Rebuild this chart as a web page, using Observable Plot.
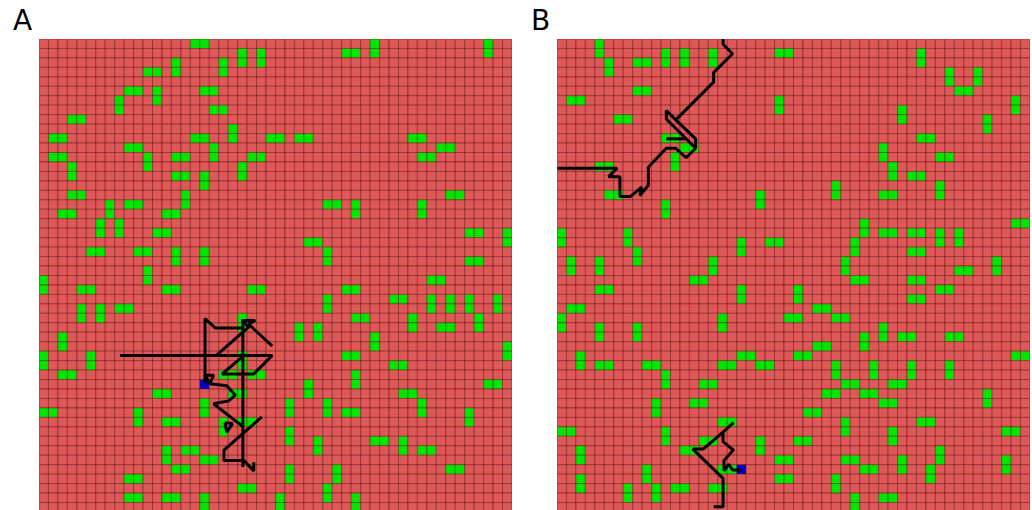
<!DOCTYPE html>
<html>
<head>
<meta charset="utf-8">
<script src="https://cdn.jsdelivr.net/npm/d3@7"></script>
<script src="https://cdn.jsdelivr.net/npm/@observablehq/plot@0.6"></script>
<style>
  html, body { margin: 0; padding: 0; background: #fff; }
  #root { position: relative; width: 1032px; height: 510px; overflow: hidden; background: #fff; }
  .lab { position: absolute; top: 7px; font-family: "DejaVu Sans", sans-serif; font-size: 28px; line-height: 28px; color: #000; }
  .panel { position: absolute; top: 39px; }
</style>
</head>
<body>
<div id="root">
  <div class="lab" style="left:13px">A</div>
  <div class="lab" style="left:531px">B</div>
  <div id="pa" class="panel" style="left:39px"></div>
  <div id="pb" class="panel" style="left:557px"></div>
</div>
<script>
// ---- data ----
const gridSize = 50;
const panelLabels = ["A", "B"];

// green cells [column, row], row 0 at top
const greenA = [
 [16,0],[17,0],[35,0],[47,0],
 [21,1],[23,1],[32,1],[33,1],[35,1],[47,1],
 [21,2],[23,2],[14,2],[19,2],
 [14,3],[19,3],[11,3],[12,3],
 [9,5],[10,5],[12,5],[17,5],[18,5],
 [12,6],[8,6],
 [8,7],[18,7],[19,7],
 [3,8],[4,8],
 [20,9],
 [1,10],[2,10],[16,10],[17,10],[20,10],[24,10],[25,10],[27,10],[28,10],[39,10],[40,10],
 [9,11],[10,11],[18,11],[42,11],[43,11],
 [1,12],[2,12],[11,12],[14,12],[15,12],[18,12],[22,12],[23,12],[40,12],[41,12],
 [11,13],[3,13],[21,13],
 [3,14],[21,14],[14,14],[15,14],[17,14],
 [17,15],
 [3,16],[4,16],[15,16],[43,16],[44,16],
 [15,17],[7,17],[9,17],[10,17],[30,17],[31,17],[33,17],[40,17],
 [7,18],[2,18],[3,18],[13,18],[14,18],[33,18],[40,18],
 [6,19],[8,19],
 [6,20],[8,20],[12,20],[13,20],[45,20],[46,20],[49,20],
 [49,21],[28,21],[29,21],
 [5,22],[6,22],[10,22],[11,22],[14,22],[17,22],[30,22],
 [14,23],[17,23],[30,23],[45,23],[46,23],
 [11,24],
 [11,25],[0,25],[41,25],[42,25],
 [0,26],[4,26],[5,26],[13,26],[14,26],[22,26],[23,26],[32,26],[33,26],
 [30,27],[37,27],[38,27],[41,27],[43,27],[45,27],[48,27],
 [4,28],[6,28],[8,28],[9,28],[30,28],[41,28],[43,28],[45,28],[48,28],
 [4,29],[6,29],[21,29],[33,29],[34,29],[39,29],[46,29],
 [21,30],[39,30],[46,30],[27,30],[29,30],[42,30],[43,30],
 [2,31],[27,31],[29,31],[35,31],
 [2,32],[35,32],[49,32],
 [0,33],[5,33],[21,33],[49,33],[32,33],[33,33],
 [0,34],[5,34],[21,34],[37,34],[38,34],
 [2,35],[3,35],[19,35],[20,35],[22,35],[23,35],[33,35],
 [33,36],[28,36],[47,36],[48,36],
 [12,37],[13,37],[20,37],[21,37],[28,37],[38,37],[39,37],
 [17,38],[26,38],[30,38],[40,38],
 [17,39],[0,39],[1,39],[10,39],[26,39],[30,39],[40,39],[32,39],[33,39],[45,39],
 [10,40],[13,40],[14,40],[19,40],[21,40],[22,40],[45,40],
 [19,41],[26,41],
 [26,42],[29,42],[35,42],[36,42],[38,42],
 [13,43],[15,43],[16,43],[29,43],[38,43],[40,43],[41,43],
 [13,44],[17,44],[18,44],
 [14,45],[15,45],[26,45],[31,45],[43,45],[44,45],
 [9,46],[10,46],[26,46],[31,46],
 [21,47],[22,47],[30,47],
 [9,48],[10,48],[13,48],[14,48],[17,48],[30,48],[25,48],[33,48],
 [17,49],[25,49],[33,49]
];

const greenB = [
 [4,0],
 [4,1],[11,1],[13,1],[16,1],[23,1],[24,1],[38,1],
 [5,2],[8,2],[9,2],[11,2],[13,2],[16,2],[38,2],
 [5,3],[41,3],[44,3],
 [41,4],[44,4],
 [8,5],[9,5],[42,5],[43,5],
 [1,6],[2,6],[23,6],[48,6],
 [23,7],[48,7],[36,7],
 [6,8],[7,8],[36,8],[45,8],
 [45,9],
 [11,10],[12,10],[38,10],[39,10],
 [13,11],[14,11],[34,11],
 [12,12],[34,12],[40,12],[41,12],
 [12,13],[4,13],[5,13],[35,13],
 [35,14],[37,14],[38,14],
 [29,15],[40,15],
 [5,16],[6,16],[21,16],[29,16],[40,16],[34,16],[35,16],
 [21,17],[11,17],
 [11,18],
 [32,19],[48,19],[49,19],
 [0,20],[7,20],[32,20],[34,20],[35,20],[37,20],[38,20],[40,20],[42,20],
 [0,21],[7,21],[19,21],[22,21],[23,21],[40,21],[42,21],[31,21],
 [19,22],[8,22],[31,22],[37,22],[38,22],
 [8,23],[1,23],[4,23],[16,23],[30,23],[46,23],
 [1,24],[4,24],[16,24],[30,24],[46,24],[42,24],[43,24],
 [14,25],[15,25],[31,25],[32,25],[37,25],[38,25],
 [4,26],[5,26],[19,26],[25,26],[40,26],[41,26],
 [19,27],[25,27],[37,27],[38,27],
 [1,28],[2,28],[27,28],[28,28],
 [0,29],[17,29],[24,29],[25,29],[29,29],[30,29],
 [0,30],[4,30],[8,30],[17,30],[34,30],
 [4,31],[8,31],[34,31],[32,31],[36,31],[37,31],[41,31],[42,31],
 [32,32],[27,32],[28,32],
 [2,33],[19,33],[20,33],[25,33],[26,33],[48,33],[49,33],
 [2,34],[4,34],[5,34],[9,34],[10,34],[17,34],[18,34],[21,34],[22,34],[29,34],[33,34],[37,34],[41,34],
 [11,35],[29,35],[33,35],[37,35],[41,35],
 [11,36],[15,36],[16,36],[30,36],[31,36],[35,36],[36,36],
 [28,37],[29,37],[32,37],[33,37],[45,37],
 [10,38],[14,38],[15,38],[45,38],[34,38],[35,38],
 [10,39],[26,39],[27,39],
 [17,40],[18,40],[30,40],[38,40],[39,40],
 [0,41],[1,41],[11,41],[30,41],[35,41],[47,41],[48,41],
 [11,42],[15,42],[16,42],[21,42],[35,42],[25,42],[26,42],
 [21,43],[2,43],[13,43],[14,43],[40,43],
 [2,44],[23,44],[24,44],[40,44],[30,44],[31,44],[36,44],[47,44],
 [9,45],[17,45],[18,45],[36,45],[47,45],[32,45],[33,45],[39,45],
 [9,46],[2,46],[23,46],[24,46],[39,46],[29,46],
 [2,47],[7,47],[10,47],[12,47],[13,47],[16,47],[17,47],[29,47],
 [7,48],[10,48],[31,48],[34,48],[35,48],
 [31,49]
];

// agent cell (blue)
const blueA = [[17,36]];
const blueB = [[19,45]];

// trajectories in grid units (cell centre = .5), split into polylines
const pathA = [
 [[8.5,33.4],[24.6,33.4],[22.65,35.35],[19.3,35.35],[21.5,33.5]],
 [[24.6,32.4],[22.1,30.1],[22.8,29.7],[21.4,29.7],[22.1,30.4],[18.7,33.4]],
 [[21.5,29.6],[21.5,45.2]],
 [[17.5,36.3],[17.5,29.5],[18.6,30.5],[21.5,30.5]],
 [[17.5,35.5],[18.4,35.5],[18.0,36.4],[17.5,35.5]],
 [[18.0,36.4],[19.8,36.6],[20.7,37.6],[20.0,38.2],[18.4,38.5],[21.6,41.0]],
 [[19.6,40.5],[20.4,40.6],[19.8,41.5],[19.6,40.5]],
 [[23.5,39.9],[19.5,43.4],[19.5,44.5],[21.6,44.5],[22.65,45.6],[22.65,44.7]]
];
const pathB = [
 [[17.5,-0.5],[17.5,0.5],[18.5,1.5],[16.5,3.5],[16.5,4.5],[12.5,8.5],[11.5,7.5],[11.5,8.4],[14.6,11.5],[14.6,10.5],[12.5,8.5]],
 [[11.5,10.5],[13.6,10.5]],
 [[14.6,11.5],[13.6,12.5],[12.5,11.5],[11.5,11.5],[9.6,13.5],[9.6,15.4],[8.7,16.5],[8.9,15.6],[7.7,16.6],[6.6,16.6],[6.6,14.5],[5.4,14.5],[6.3,13.6],[0,13.6]],
 [[18.6,40.5],[17.5,41.5],[17.5,42.5],[18.6,43.4],[17.6,44.5],[17.6,45.6],[18.1,44.9],[18.5,45.5],[19.5,45.5]],
 [[17.5,41.5],[15.4,43.3],[14.3,43.3],[17.5,46.4],[17.5,49.4],[16.5,49.4]]
];

// ---- styles ----
const cellColors = {empty: "#de5858", food: "#00e600", agent: "#0000c4"};

function panel(green, blue, path) {
  const greenSet = new Set(green.map(([c, r]) => c + "," + r));
  const blueSet = new Set(blue.map(([c, r]) => c + "," + r));
  const cells = [];
  for (let r = 0; r < gridSize; r++)
    for (let c = 0; c < gridSize; c++) {
      const k = c + "," + r;
      cells.push({c, r, kind: blueSet.has(k) ? "agent" : greenSet.has(k) ? "food" : "empty"});
    }
  const pts = path.flatMap((seg, i) => seg.map(([x, y]) => ({x, y, seg: i})));
  const size = 473;
  return Plot.plot({
    width: size,
    height: size,
    margin: 0,
    style: {background: "transparent", overflow: "hidden"},
    x: {domain: [0, gridSize], range: [0, size], axis: null},
    y: {domain: [0, gridSize], range: [0, size], axis: null},
    marks: [
      Plot.rect(cells, {
        x1: d => d.c, x2: d => d.c + 1, y1: d => d.r, y2: d => d.r + 1,
        fill: d => cellColors[d.kind], stroke: "#5a0000", strokeOpacity: 0.42, strokeWidth: 1
      }),
      Plot.line(pts, {x: "x", y: "y", z: "seg", stroke: "#000", strokeWidth: 3,
        strokeLinejoin: "miter", strokeLinecap: "butt", clip: true})
    ]
  });
}

document.getElementById("pa").appendChild(panel(greenA, blueA, pathA));
document.getElementById("pb").appendChild(panel(greenB, blueB, pathB));
</script>
</body>
</html>
